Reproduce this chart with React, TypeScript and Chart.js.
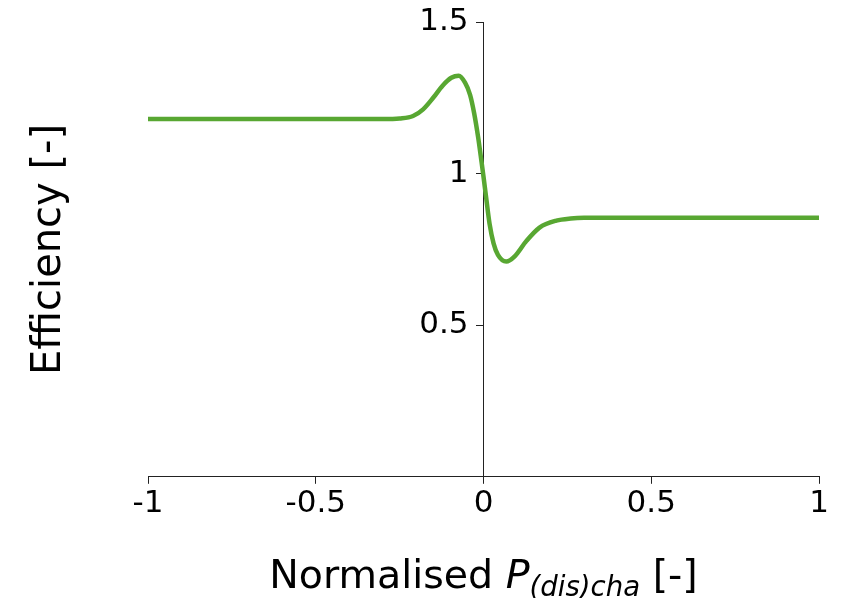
import React, { useEffect, useRef } from "react";
import { Chart, registerables } from "chart.js";

Chart.register(...registerables);

const xValues: number[] = [
  -1, -0.5, -0.3, -0.25, -0.21, -0.18, -0.15, -0.122, -0.096, -0.074, -0.055, -0.04,
  -0.028, -0.016, -0.006, 0, 0.008, 0.018, 0.03, 0.043, 0.068, 0.093, 0.128, 0.167,
  0.217, 0.26, 0.3, 0.5, 1,
];
const efficiency: number[] = [
  1.18, 1.18, 1.18, 1.182, 1.19, 1.212, 1.25, 1.29, 1.316, 1.323, 1.3, 1.26,
  1.2, 1.12, 1.04, 0.99, 0.92, 0.835, 0.77, 0.732, 0.71, 0.727, 0.778, 0.822,
  0.845, 0.852, 0.854, 0.854, 0.854,
];
const xTicks: number[] = [-1, -0.5, 0, 0.5, 1];
const yTicks: number[] = [0.5, 1, 1.5];

const FONT = "'DejaVu Sans', sans-serif";
const AXIS_COLOR = "#222222";
const LINE_COLOR = "rgb(88,167,50)";

const titlesPlugin = {
  id: "axisTitles",
  afterDraw(chart: any) {
    const ctx: CanvasRenderingContext2D = chart.ctx;
    const area = chart.chartArea;
    ctx.save();
    ctx.fillStyle = "#000";
    ctx.textBaseline = "alphabetic";
    const parts = [
      { t: "Normalised ", f: `39.5px ${FONT}`, dy: 0 },
      { t: "P", f: `oblique 39.5px ${FONT}`, dy: 0 },
      { t: "(dis)cha", f: `oblique 27.6px ${FONT}`, dy: 8 },
      { t: " [-]", f: `39.5px ${FONT}`, dy: 0 },
    ];
    let total = 0;
    const widths = parts.map((p) => {
      ctx.font = p.f;
      const w = ctx.measureText(p.t).width;
      total += w;
      return w;
    });
    let x = (area.left + area.right) / 2 - total / 2;
    const base = area.bottom + 111;
    ctx.textAlign = "left";
    parts.forEach((p, i) => {
      ctx.font = p.f;
      ctx.fillText(p.t, x, base + p.dy);
      x += widths[i];
    });
    ctx.translate(60, (area.top + area.bottom) / 2);
    ctx.rotate(-Math.PI / 2);
    ctx.font = `40px ${FONT}`;
    ctx.textAlign = "center";
    ctx.fillText("Efficiency [-]", 0, 0);
    ctx.restore();
  },
};

export default function App() {
  const ref = useRef<HTMLCanvasElement | null>(null);
  useEffect(() => {
    if (!ref.current) return;
    const chart = new Chart(ref.current, {
      type: "line",
      data: {
        datasets: [
          {
            data: xValues.map((x, i) => ({ x, y: efficiency[i] })),
            borderColor: LINE_COLOR,
            borderWidth: 4.5,
            pointRadius: 0,
            cubicInterpolationMode: "monotone",
            fill: false,
          },
        ],
      },
      options: {
        responsive: false,
        animation: false,
        events: [],
        layout: { padding: { left: 148, right: 24, top: 22, bottom: 73 } },
        plugins: { legend: { display: false }, tooltip: { enabled: false } },
        scales: {
          x: {
            type: "linear",
            position: "bottom",
            min: -1,
            max: 1,
            afterBuildTicks: (s: any) => {
              s.ticks = xTicks.map((v) => ({ value: v }));
            },
            ticks: {
              font: { family: FONT, size: 31 },
              color: "#000",
              padding: 2,
              maxRotation: 0,
              autoSkip: false,
              callback: (v: any) => String(v),
            },
            grid: {
              drawOnChartArea: false,
              drawTicks: true,
              tickLength: 7,
              color: AXIS_COLOR,
              tickColor: AXIS_COLOR,
            },
            border: { display: true, color: AXIS_COLOR, width: 1 },
          },
          y: {
            type: "linear",
            position: "center",
            min: 0,
            max: 1.5,
            afterBuildTicks: (s: any) => {
              s.ticks = yTicks.map((v) => ({ value: v }));
            },
            ticks: {
              font: { family: FONT, size: 31, lineHeight: 0.8 },
              color: "#000",
              padding: 8,
              autoSkip: false,
              callback: (v: any) => String(v),
            },
            grid: {
              drawOnChartArea: false,
              drawTicks: true,
              tickLength: 7,
              color: AXIS_COLOR,
              tickColor: AXIS_COLOR,
            },
            border: { display: true, color: AXIS_COLOR, width: 1 },
          },
        },
      },
      plugins: [titlesPlugin],
    } as any);
    return () => chart.destroy();
  }, []);
  return (
    <div style={{ position: "fixed", left: 0, top: 0, width: 843, height: 598, background: "#fff" }}>
      <canvas ref={ref} width={843} height={598} />
    </div>
  );
}
